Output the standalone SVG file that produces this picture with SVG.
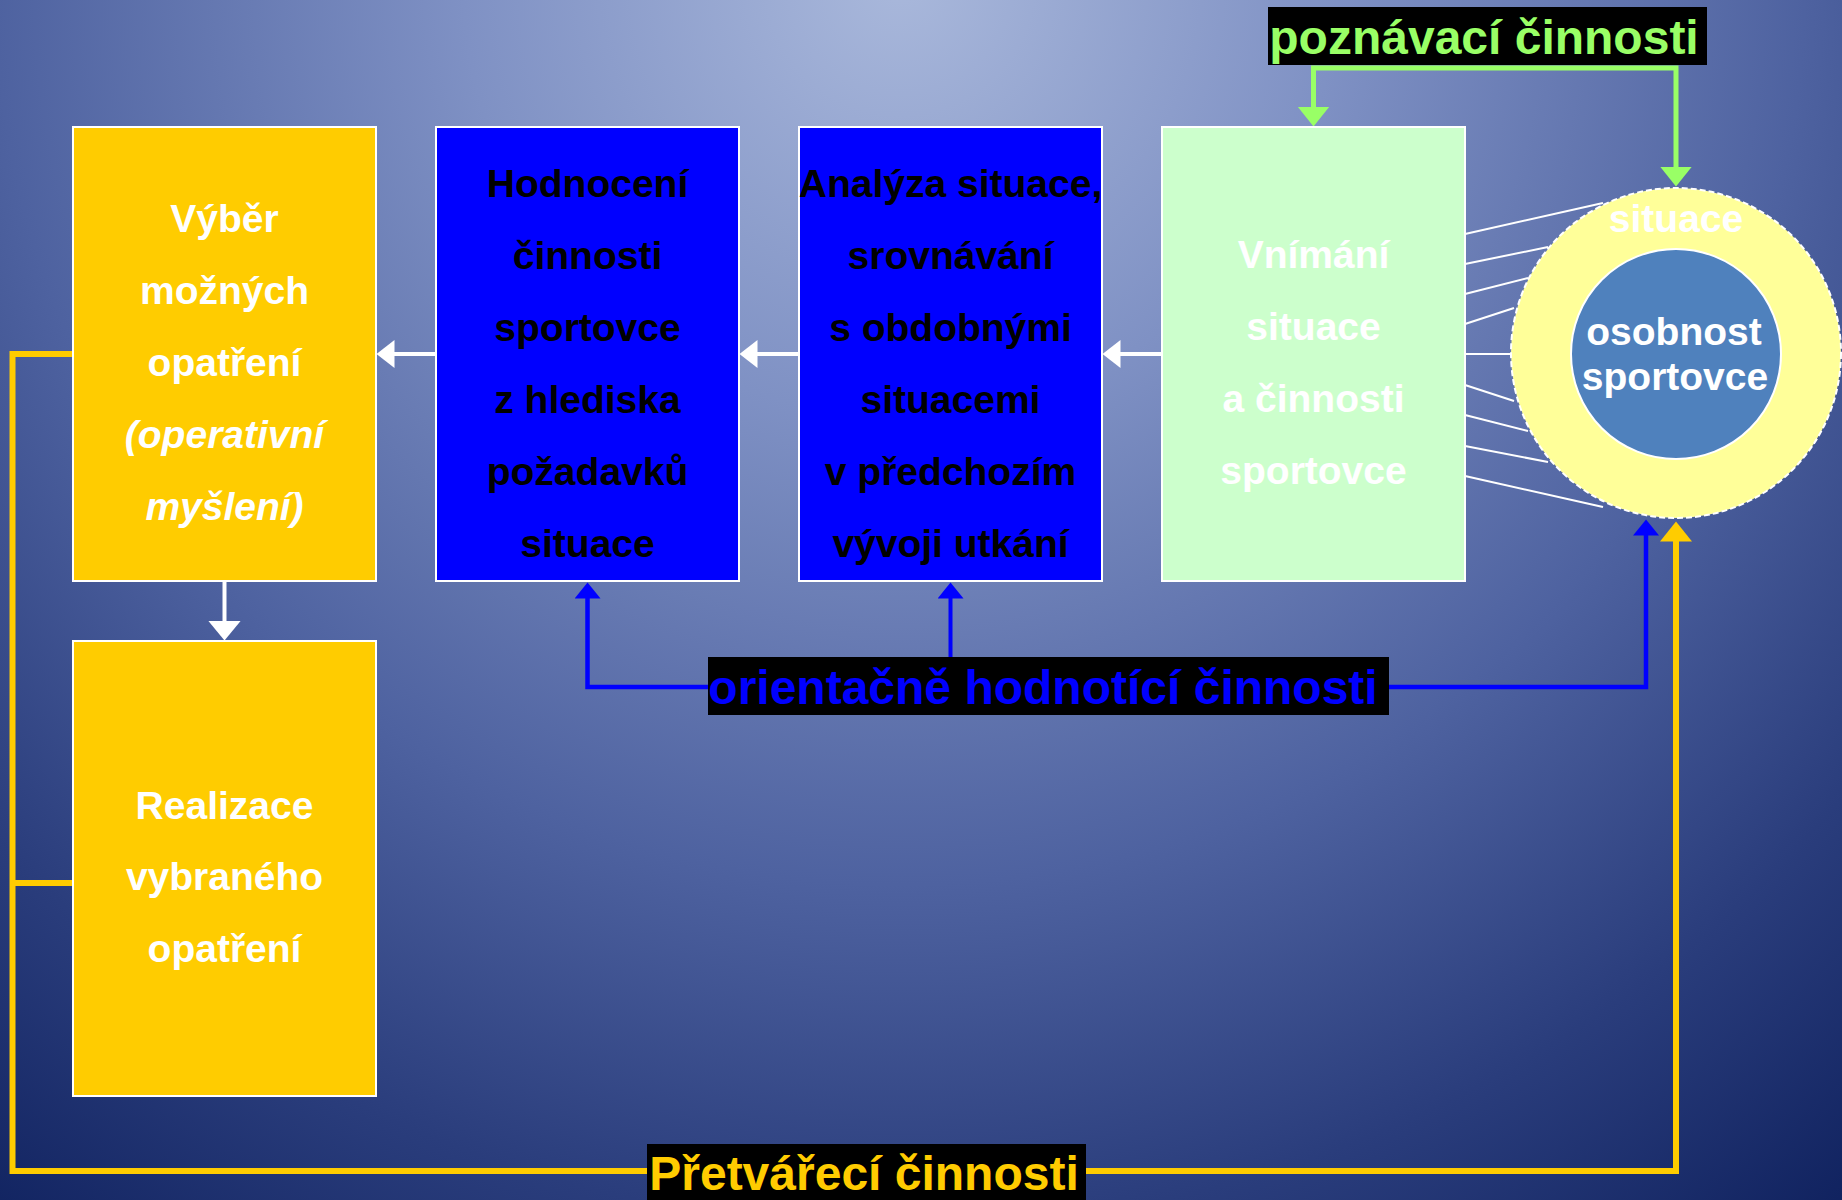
<svg xmlns="http://www.w3.org/2000/svg" width="1842" height="1200" viewBox="0 0 1842 1200">
  <defs>
    <radialGradient id="bg" gradientUnits="userSpaceOnUse" cx="900" cy="-20" r="1560">
      <stop offset="0" stop-color="#A9B8DB"/>
      <stop offset="0.28" stop-color="#7F91C4"/>
      <stop offset="0.58" stop-color="#4E62A0"/>
      <stop offset="0.8" stop-color="#2A3D7C"/>
      <stop offset="1" stop-color="#0F215E"/>
    </radialGradient>
    <marker id="arrW" markerUnits="userSpaceOnUse" markerWidth="20" markerHeight="30" refX="0.5" refY="14" orient="auto-start-reverse">
      <path d="M0,0 L18,14 L0,28 Z" fill="#FFFFFF"/>
    </marker>
    <marker id="arrWv" markerUnits="userSpaceOnUse" markerWidth="22" markerHeight="34" refX="0.5" refY="16.5" orient="auto-start-reverse">
      <path d="M0,0 L20,16.5 L0,33 Z" fill="#FFFFFF"/>
    </marker>
    <marker id="arrG" markerUnits="userSpaceOnUse" markerWidth="22" markerHeight="34" refX="0.5" refY="16" orient="auto-start-reverse">
      <path d="M0,0 L20,16 L0,32 Z" fill="#99FF66"/>
    </marker>
    <marker id="arrB" markerUnits="userSpaceOnUse" markerWidth="18" markerHeight="28" refX="0.5" refY="13" orient="auto-start-reverse">
      <path d="M0,0 L16,13 L0,26 Z" fill="#0000FF"/>
    </marker>
    <marker id="arrY" markerUnits="userSpaceOnUse" markerWidth="22" markerHeight="34" refX="0.5" refY="16" orient="auto-start-reverse">
      <path d="M0,0 L20,16 L0,32 Z" fill="#FFCC00"/>
    </marker>
  </defs>
  <style>
    .box { stroke: #FFFFFF; stroke-width: 2; }
    .yellow { fill: #FFCC00; }
    .blue { fill: #0000FF; }
    .green { fill: #CCFFCC; }
    .t { font-family: "Liberation Sans", Arial, sans-serif; font-weight: bold; font-size: 39px; text-anchor: middle; }
    .white { fill: #FFFFFF; }
    .black { fill: #000000; }
    .it { font-style: italic; }
    .lbl { font-family: "Liberation Sans", Arial, sans-serif; font-weight: bold; font-size: 48px; text-anchor: middle; }
    .ray { stroke: #FFFFFF; stroke-width: 2; fill: none; }
    .cw { stroke: #FFFFFF; stroke-width: 4; fill: none; }
  </style>

  <!-- background -->
  <rect x="0" y="0" width="1842" height="1200" fill="url(#bg)"/>

  <!-- connectors -->
  <g id="connectors">
    <!-- perception rays from the situation -->
    <g id="rays">
      <line class="ray" x1="1465" y1="234" x2="1603" y2="203"/>
      <line class="ray" x1="1465" y1="264" x2="1548" y2="247"/>
      <line class="ray" x1="1465" y1="294" x2="1528" y2="278"/>
      <line class="ray" x1="1465" y1="324" x2="1514" y2="308"/>
      <line class="ray" x1="1465" y1="354" x2="1514" y2="354"/>
      <line class="ray" x1="1465" y1="385" x2="1514" y2="401"/>
      <line class="ray" x1="1465" y1="415" x2="1528" y2="431"/>
      <line class="ray" x1="1465" y1="446" x2="1548" y2="462"/>
      <line class="ray" x1="1465" y1="476" x2="1603" y2="507"/>
    </g>
    <!-- white flow between boxes -->
    <line class="cw" x1="1162" y1="354" x2="1120" y2="354" marker-end="url(#arrW)"/>
    <line class="cw" x1="799" y1="354" x2="757" y2="354" marker-end="url(#arrW)"/>
    <line class="cw" x1="436" y1="354" x2="394" y2="354" marker-end="url(#arrW)"/>
    <line class="cw" x1="224.5" y1="581" x2="224.5" y2="621" marker-end="url(#arrWv)"/>
    <!-- cognitive activities (green) -->
    <path d="M1313.5,107 V68 H1676 V167" fill="none" stroke="#99FF66" stroke-width="5" marker-start="url(#arrG)" marker-end="url(#arrG)"/>
    <!-- orientation / evaluation activities (blue) -->
    <path d="M587.5,598 V687 H1646 V535" fill="none" stroke="#0000FF" stroke-width="4.5" marker-start="url(#arrB)" marker-end="url(#arrB)"/>
    <line x1="950.5" y1="687" x2="950.5" y2="598" stroke="#0000FF" stroke-width="4" marker-end="url(#arrB)"/>
    <!-- transforming activities (yellow) -->
    <path d="M73,354 H12.5 V1171 H1676 V541" fill="none" stroke="#FFCC00" stroke-width="6" marker-end="url(#arrY)"/>
    <line x1="12.5" y1="883" x2="73" y2="883" stroke="#FFCC00" stroke-width="6"/>
  </g>

  <!-- situation with the athlete's personality -->
  <g id="situace">
    <circle cx="1676" cy="353" r="165" fill="#FFFF99" stroke="#FFFFFF" stroke-width="2" stroke-dasharray="6 3"/>
    <text class="t white" x="1676" y="232" font-size="37">situace</text>
  </g>
  <g id="osobnost">
    <circle cx="1676" cy="354" r="105" fill="#4F81BD" stroke="#FFFFFF" stroke-width="2"/>
    <text class="t white" x="1674" y="345" font-size="37">osobnost</text>
    <text class="t white" x="1675" y="390" font-size="37">sportovce</text>
  </g>

  <!-- process boxes -->
  <g id="vyber">
    <rect class="box yellow" x="73" y="127" width="303" height="454"/>
    <text class="t white" x="224.5" y="232">Výběr</text>
    <text class="t white" x="224.5" y="304">možných</text>
    <text class="t white" x="224.5" y="376">opatření</text>
    <text class="t white it" x="224.5" y="448">(operativní</text>
    <text class="t white it" x="224.5" y="520">myšlení)</text>
  </g>
  <g id="hodnoceni">
    <rect class="box blue" x="436" y="127" width="303" height="454"/>
    <text class="t black" x="587.5" y="197">Hodnocení</text>
    <text class="t black" x="587.5" y="269">činnosti</text>
    <text class="t black" x="587.5" y="341">sportovce</text>
    <text class="t black" x="587.5" y="413">z hlediska</text>
    <text class="t black" x="587.5" y="485">požadavků</text>
    <text class="t black" x="587.5" y="557">situace</text>
  </g>
  <g id="analyza">
    <rect class="box blue" x="799" y="127" width="303" height="454"/>
    <text class="t black" x="950.5" y="197">Analýza situace,</text>
    <text class="t black" x="950.5" y="269">srovnávání</text>
    <text class="t black" x="950.5" y="341">s obdobnými</text>
    <text class="t black" x="950.5" y="413">situacemi</text>
    <text class="t black" x="950.5" y="485">v předchozím</text>
    <text class="t black" x="950.5" y="557">vývoji utkání</text>
  </g>
  <g id="vnimani">
    <rect class="box green" x="1162" y="127" width="303" height="454"/>
    <text class="t white" x="1313.5" y="268">Vnímání</text>
    <text class="t white" x="1313.5" y="340">situace</text>
    <text class="t white" x="1313.5" y="412">a činnosti</text>
    <text class="t white" x="1313.5" y="484">sportovce</text>
  </g>
  <g id="realizace">
    <rect class="box yellow" x="73" y="641" width="303" height="455"/>
    <text class="t white" x="224.5" y="819">Realizace</text>
    <text class="t white" x="224.5" y="890">vybraného</text>
    <text class="t white" x="224.5" y="962">opatření</text>
  </g>

  <!-- activity labels -->
  <g id="poznavaci">
    <rect x="1268" y="7" width="439" height="58" fill="#000000"/>
    <text class="lbl" x="1484" y="54" fill="#99FF66">poznávací činnosti</text>
  </g>
  <g id="orientacne">
    <rect x="708" y="657" width="681" height="58" fill="#000000"/>
    <text class="lbl" x="1043" y="704" fill="#0000FF">orientačně hodnotící činnosti</text>
  </g>
  <g id="pretvareci">
    <rect x="647" y="1144" width="439" height="56" fill="#000000"/>
    <text class="lbl" x="864" y="1190" fill="#FFCC00">Přetvářecí činnosti</text>
  </g>
</svg>
